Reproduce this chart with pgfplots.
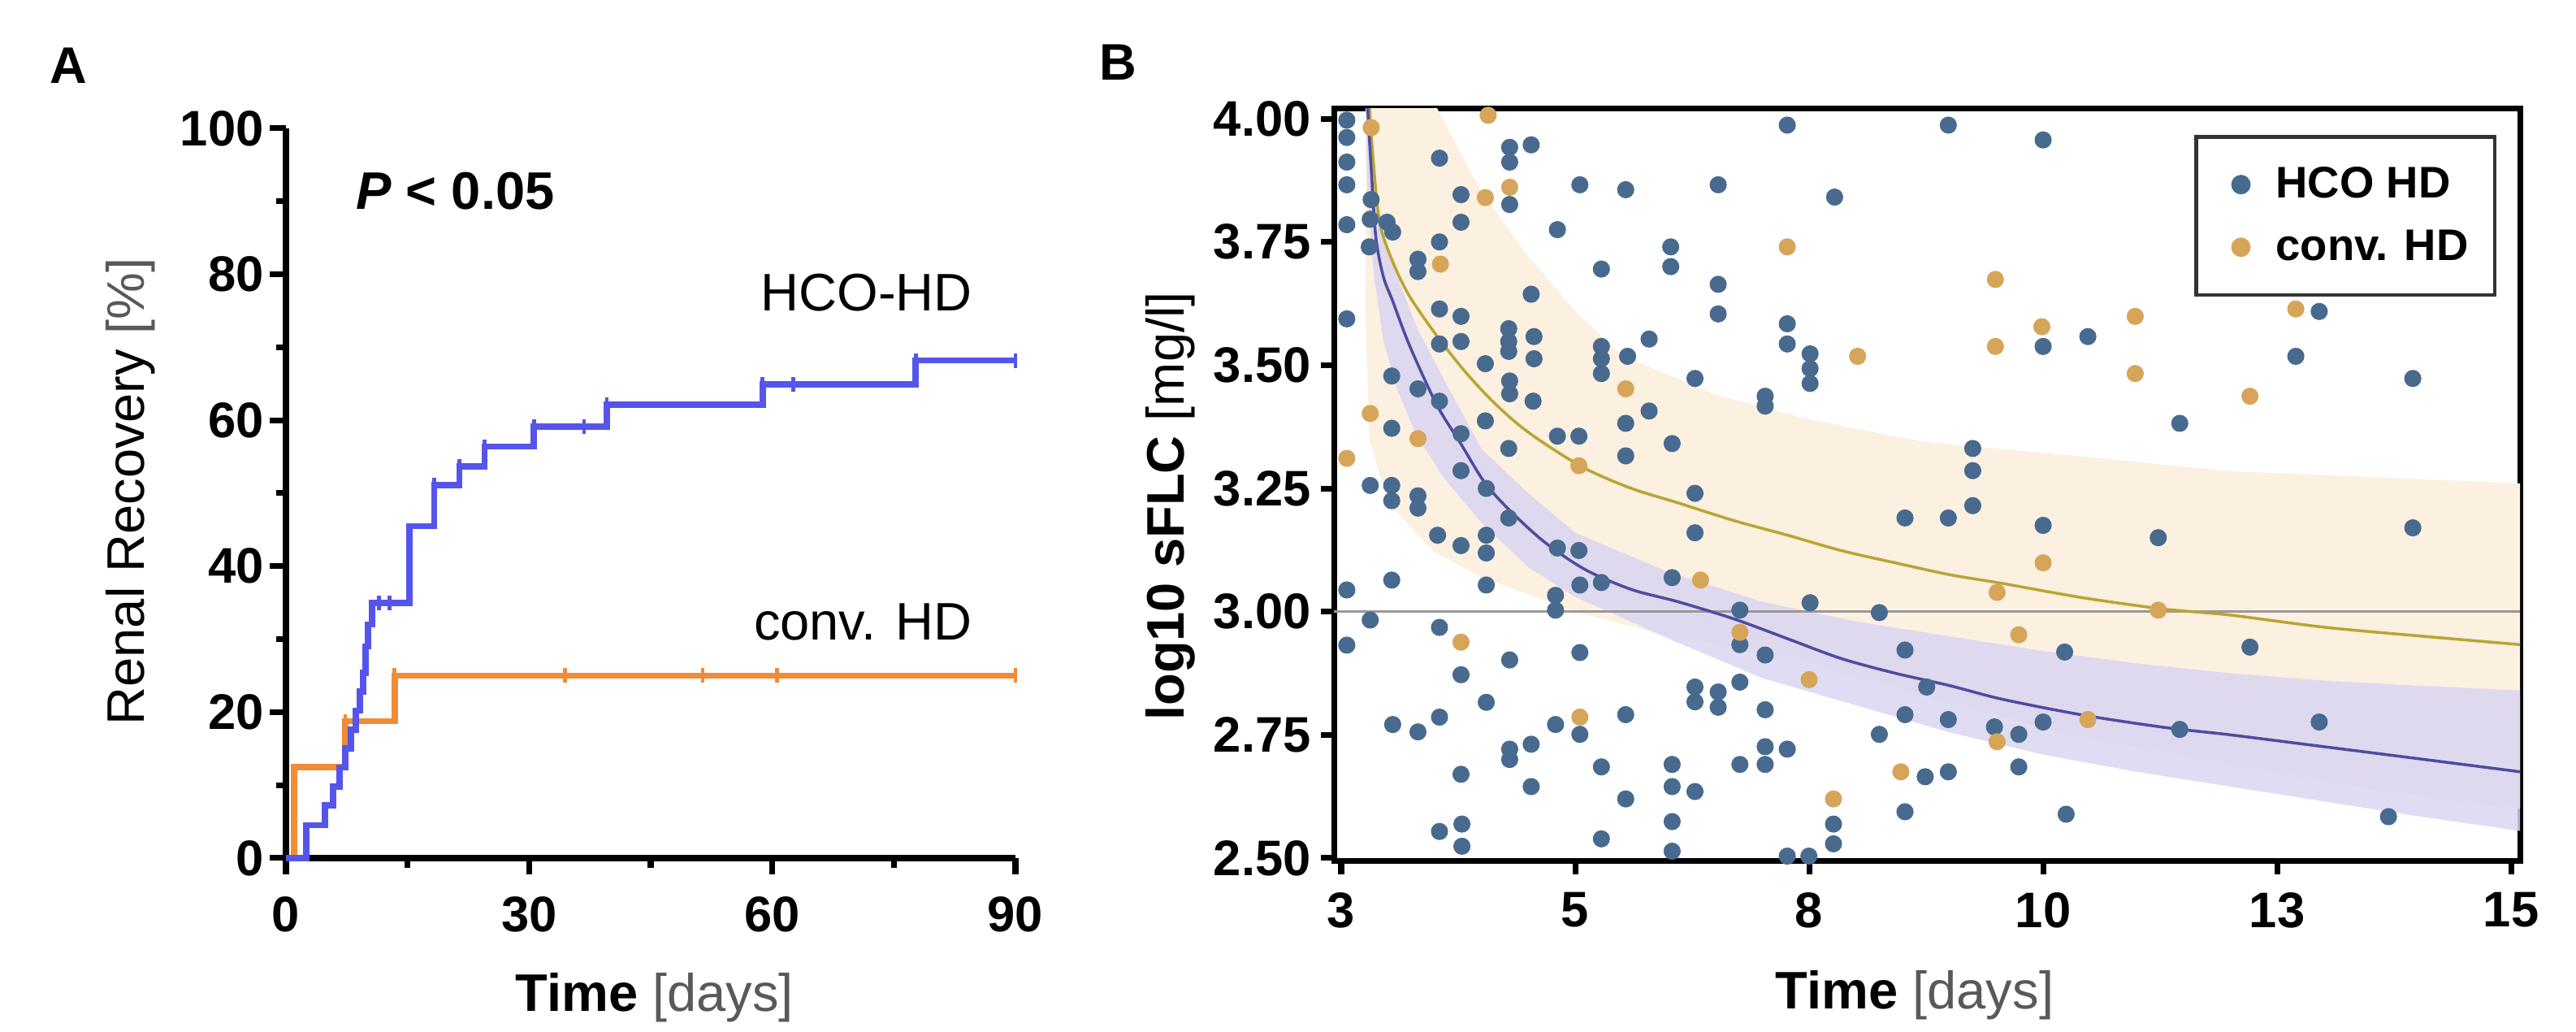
\documentclass[border=0pt]{standalone}
\usepackage{fontspec}
\setmainfont{Liberation Sans}
\usepackage{pgfplots}
\pgfplotsset{compat=1.18}

\definecolor{kmblue}{RGB}{85,85,235}
\definecolor{kmorange}{RGB}{240,140,55}
\definecolor{hcopt}{RGB}{72,106,142}
\definecolor{convpt}{RGB}{215,165,90}
\definecolor{hcofit}{RGB}{80,75,160}
\definecolor{convfit}{RGB}{185,165,50}
\definecolor{hcoband}{RGB}{218,214,242}
\definecolor{convband}{RGB}{252,240,225}

\newcommand\tickfont{\fontsize{17.5}{20}\selectfont\bfseries}
\newcommand\labfont{\fontsize{18.5}{22}\selectfont}
\newcommand\legfont{\fontsize{15.5}{18}\selectfont\bfseries}

\begin{document}
\begin{tikzpicture}
\path (0,0) rectangle (31.71,12.69);

% ---------- panel A: renal recovery ----------
\begin{axis}[
  at={(3.52cm,2.13cm)}, anchor=south west,
  scale only axis, width=8.98cm, height=8.98cm,
  xmin=0, xmax=90, ymin=0, ymax=100,
  axis x line=bottom, axis y line=left,
  axis line style={-, line width=2.3pt},
  xtick={0,30,60,90}, minor xtick={15,45,75},
  ytick={0,20,40,60,80,100}, minor ytick={10,30,50,70,90},
  xticklabels={0,30,60,90}, yticklabels={0,20,40,60,80,100},
  tick align=outside, major tick length=0.2cm, minor tick length=0.12cm,
  tick style={black, line width=2pt},
  ticklabel style={font=\tickfont},
  xticklabel style={yshift=-0.15cm},
  yticklabel style={xshift=0.05cm},
  clip=false
]
\addplot[const plot, kmorange, line width=2.2pt] coordinates {
  (0,0) (1.0,12.5) (7.3,18.75) (13.4,25) (90,25)
};
\addplot[only marks, mark=|, mark size=0.09cm, kmorange, line width=1.3pt] coordinates {
  (7.3,18.75) (13.4,25) (34.4,25) (51.4,25) (60.6,25) (90,25)
};
\addplot[const plot, kmblue, line width=2.2pt] coordinates {
  (0,0) (2.5,4.5) (4.8,7.2) (5.8,9.8) (6.6,12.4) (7.3,15.0) (8.0,17.6)
  (8.6,20.2) (9.1,22.8) (9.5,25.4) (9.8,29.0) (10.1,32.0) (10.6,35.0)
  (15.2,45.5) (18.3,51.1) (21.4,53.7) (24.5,56.4) (30.6,59.1)
  (39.6,62.1) (58.8,64.9) (77.7,68.2) (90,68.2)
};
\addplot[only marks, mark=|, mark size=0.09cm, kmblue, line width=1.3pt] coordinates {
  (11.5,35.0) (12.8,35.0) (18.3,51.1) (21.4,53.7) (24.5,56.4) (30.6,59.1)
  (36.8,59.1) (39.6,62.1) (58.8,64.9) (62.6,64.9) (77.7,68.2) (90,68.2)
};
\end{axis}

% ---------- panel B: sFLC over time ----------
\begin{axis}[
  at={(16.42cm,2.09cm)}, anchor=south west,
  scale only axis, width=14.60cm, height=9.26cm,
  xmin=2.422, xmax=15.095, ymin=2.4934, ymax=4.02,
  axis line style={line width=2pt},
  xtick={2.5,5,7.5,10,12.5,15}, xticklabels={3,5,8,10,13,15},
  ytick={2.5,2.75,3,3.25,3.5,3.75,4},
  yticklabels={2.50,2.75,3.00,3.25,3.50,3.75,4.00},
  xtick pos=bottom, ytick pos=left,
  tick align=outside, major tick length=0.16cm,
  tick style={black, line width=2pt},
  ticklabel style={font=\tickfont},
  xticklabel style={yshift=-0.1cm},
  legend style={at={(0.980,0.965)}, anchor=north east,
    draw=black!80, line width=1.2pt, font=\legfont,
    inner xsep=0.25cm, inner ysep=0.3cm, row sep=0.2cm,
    cells={anchor=west}},
  legend image code/.code={\path[draw=none, fill=none] (0cm,0cm) -- (0.66cm,0cm);
    \draw[#1] plot coordinates {(0.3cm,0cm)};},
]
% confidence bands
\addplot[draw=none, fill=convband, forget plot] coordinates {
  (2.78,4.03) (3.5,4.03) (4.0,3.85) (4.5,3.72) (5.0,3.61) (5.5,3.52)
  (6.5,3.44) (7.5,3.39) (8.7,3.345) (10.4,3.315) (12.0,3.285) (15.1,3.26)
  (15.1,2.60) (13.5,2.64) (12.0,2.69) (10.4,2.745) (8.5,2.84) (7.27,2.91)
  (6.0,2.95) (5.0,3.00) (4.0,3.07) (3.5,3.12) (3.0,3.22) (2.8,3.35)
  (2.76,3.6) (2.76,4.03)
} -- cycle;
\addplot[draw=none, fill=hcoband, fill opacity=0.85, forget plot] coordinates {
  (2.80,4.03) (2.88,3.85) (2.97,3.75) (3.1,3.68) (3.3,3.58) (3.6,3.47)
  (4.0,3.33) (4.5,3.24) (5.0,3.16) (6.0,3.08) (7.0,3.02) (8.0,2.98)
  (9.0,2.95) (10.0,2.92) (11.0,2.895) (12.0,2.875) (13.0,2.86) (14.0,2.85)
  (15.1,2.84)
  (15.1,2.555) (14.0,2.585) (13.0,2.615) (12.0,2.645) (11.0,2.675)
  (10.0,2.71) (9.0,2.755) (8.0,2.81) (7.0,2.865) (6.0,2.945) (5.0,3.03)
  (4.5,3.09) (4.0,3.18) (3.6,3.27) (3.3,3.36) (3.1,3.45) (2.95,3.55)
  (2.85,3.68) (2.78,3.85) (2.76,4.03)
} -- cycle;
\addplot[black!40, line width=0.8pt, forget plot] coordinates {(2.422,3) (15.095,3)};
% fitted curves
\addplot[convfit, line width=1pt, smooth, forget plot] coordinates {
  (2.80,4.03) (2.84,3.92) (2.91,3.79) (3.05,3.71) (3.23,3.64) (3.52,3.56)
  (3.81,3.49) (4.10,3.43) (4.39,3.38) (4.68,3.34) (5.11,3.29) (5.6,3.25)
  (6.11,3.22) (6.69,3.185) (7.27,3.155) (7.84,3.124) (8.42,3.099)
  (9.0,3.075) (9.57,3.057) (10.43,3.028) (11.3,3.005) (12.0,2.993)
  (13.02,2.968) (14.18,2.948) (15.1,2.933)
};
\addplot[hcofit, line width=1pt, smooth, forget plot] coordinates {
  (2.78,4.03) (2.82,3.90) (2.87,3.76) (2.95,3.68) (3.05,3.63) (3.23,3.54)
  (3.52,3.42) (3.78,3.34) (4.04,3.26) (4.33,3.20) (4.68,3.14) (5.11,3.085)
  (5.6,3.045) (6.1,3.02) (6.7,2.985) (7.27,2.945) (7.84,2.905) (8.42,2.875)
  (9.0,2.85) (9.57,2.822) (10.43,2.79) (11.3,2.765) (12.0,2.75)
  (13.0,2.726) (14.2,2.697) (15.1,2.675)
};
% measured values
\addplot[only marks, mark=*, mark size=2.8pt, draw=hcopt, fill=hcopt] coordinates {
  (2.56,3.997) (2.56,3.962) (2.56,3.912) (2.56,3.866) (2.56,3.785) (2.56,3.594)
  (2.56,3.044) (2.56,2.932) (2.82,3.836) (2.81,3.796) (2.99,3.79) (3.05,3.77)
  (2.80,3.74) (3.32,3.715) (3.32,3.69) (3.55,3.75) (3.55,3.92) (3.78,3.846)
  (3.78,3.79) (4.30,3.942) (4.30,3.912) (4.30,3.826) (4.53,3.947) (5.05,3.866)
  (5.54,3.856) (4.81,3.775) (5.28,3.695) (4.53,3.644) (3.55,3.614) (3.78,3.599)
  (3.55,3.543) (3.78,3.548) (4.29,3.574) (4.29,3.548) (4.29,3.528) (4.56,3.558)
  (4.56,3.513) (4.04,3.503) (5.28,3.538) (5.28,3.513) (5.28,3.483) (5.56,3.518)
  (3.04,3.478) (3.32,3.452) (3.55,3.427) (3.04,3.372) (4.04,3.387) (4.30,3.468)
  (4.30,3.442) (4.55,3.427) (3.78,3.361) (4.29,3.331) (4.81,3.356) (5.04,3.356)
  (5.54,3.382) (5.54,3.316) (2.81,3.256) (3.04,3.256) (3.04,3.225) (3.32,3.235)
  (3.32,3.210) (3.78,3.286) (4.05,3.250) (4.29,3.190) (3.53,3.155) (3.78,3.134)
  (4.05,3.155) (4.05,3.119) (3.04,3.064) (4.05,3.054) (4.81,3.129) (5.04,3.124)
  (5.05,3.054) (5.28,3.059) (4.79,3.033) (4.79,3.003) (2.81,2.983) (3.55,2.968)
  (3.78,2.872) (4.30,2.902) (5.05,2.917) (4.05,2.816) (3.05,2.771) (3.32,2.756)
  (3.55,2.786) (4.30,2.721) (4.30,2.700) (4.53,2.731) (4.79,2.771) (5.05,2.751)
  (5.54,2.791) (3.78,2.670) (4.53,2.645) (5.28,2.685) (5.54,2.620) (3.55,2.554)
  (3.79,2.569) (3.79,2.524) (5.28,2.539)
  (7.266,3.987) (6.528,3.866) (7.772,3.841) (6.021,3.740) (6.021,3.700)
  (6.528,3.664) (6.528,3.604) (5.79,3.553) (7.266,3.584) (7.266,3.543)
  (7.51,3.523) (7.51,3.493) (7.51,3.463) (6.28,3.473) (7.03,3.437) (7.03,3.417)
  (5.79,3.407) (6.036,3.341) (6.28,3.240) (6.28,3.160) (8.524,3.190)
  (6.036,3.069) (6.76,3.003) (7.51,3.018) (8.25,2.998) (6.76,2.933) (7.03,2.912)
  (8.524,2.922) (8.756,2.847) (6.76,2.857) (6.28,2.847) (6.28,2.817)
  (6.528,2.837) (6.528,2.806) (7.03,2.801) (8.524,2.791) (8.25,2.751)
  (7.03,2.726) (7.03,2.690) (7.266,2.721) (6.76,2.690) (6.036,2.690)
  (6.036,2.645) (6.28,2.635) (8.74,2.665) (8.524,2.594) (7.76,2.569)
  (7.76,2.529) (6.036,2.574) (6.036,2.514) (7.266,2.504) (7.497,2.504)
  (8.987,3.987) (10.0,3.957) (10.0,3.538) (10.478,3.558) (11.46,3.382)
  (9.248,3.331) (9.248,3.286) (9.248,3.215) (8.987,3.190) (10.0,3.175)
  (11.23,3.150) (10.23,2.918) (8.987,2.781) (9.48,2.766) (9.74,2.751)
  (10.0,2.776) (11.46,2.761) (9.74,2.685) (8.987,2.675) (10.246,2.589)
  (12.95,3.609) (12.70,3.518) (13.95,3.473) (13.95,3.170) (12.21,2.928)
  (12.95,2.776) (13.69,2.584)
};
\addplot[only marks, mark=*, mark size=2.8pt, draw=convpt, fill=convpt] coordinates {
  (2.82,3.982) (3.56,3.705) (4.04,3.84) (4.30,3.861) (4.07,4.007) (5.54,3.452)
  (2.81,3.402) (3.32,3.351) (5.04,3.296) (2.56,3.311) (3.78,2.938) (5.05,2.786)
  (7.266,3.740) (8.018,3.518) (6.34,3.064) (6.76,2.958) (7.50,2.862)
  (8.48,2.675) (7.76,2.620)
  (9.49,3.674) (9.986,3.578) (9.49,3.538) (10.984,3.599) (10.984,3.483)
  (10.0,3.099) (9.508,3.039) (11.23,3.003) (9.74,2.953) (9.508,2.736)
  (10.478,2.781) (12.70,3.614) (12.21,3.437)
};
\legend{HCO HD, conv. HD}
\end{axis}

% ---------- labels ----------
\node[font=\fontsize{18}{20}\selectfont\bfseries] at (0.84,11.88) {A};
\node[font=\fontsize{18}{20}\selectfont\bfseries] at (13.76,11.92) {B};
\node[anchor=west, font=\labfont\bfseries] at (4.26,10.34) {\textit{P} < 0.05};
\node[anchor=east, font=\labfont] at (12.09,9.09) {HCO-HD};
\node[anchor=east, font=\labfont] at (12.09,5.04) {conv. HD};
\node[rotate=90, font=\labfont] at (1.61,6.64) {Renal Recovery \textcolor{black!65}{[\%]}};
\node[font=\labfont] at (8.06,0.41) {\textbf{Time} \textcolor{black!65}{[days]}};
\node[font=\labfont] at (23.57,0.44) {\textbf{Time} \textcolor{black!65}{[days]}};
\node[rotate=90, font=\labfont] at (14.41,6.46) {\textbf{log10 sFLC} [mg/l]};
\end{tikzpicture}
\end{document}
